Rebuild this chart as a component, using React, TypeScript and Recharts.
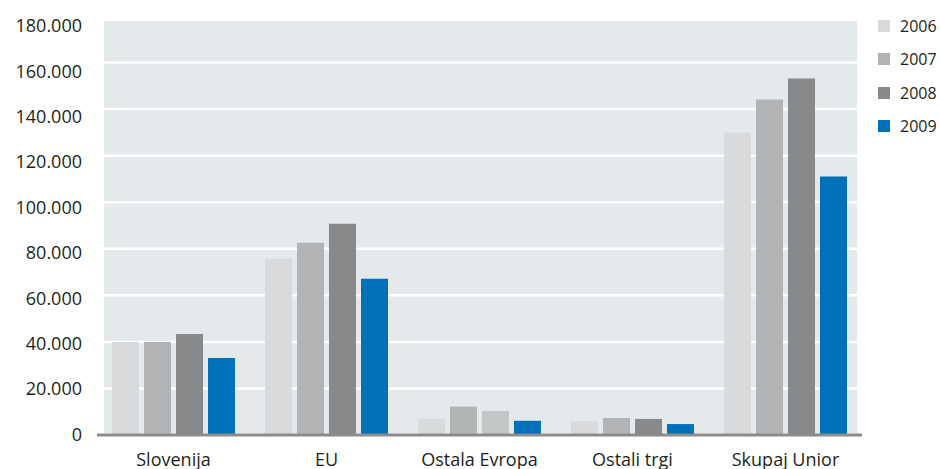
import React from 'react';
import { BarChart, Bar, XAxis, YAxis, CartesianGrid, Legend, Cell } from 'recharts';

const categories = ['Slovenija', 'EU', 'Ostala Evropa', 'Ostali trgi', 'Skupaj Unior'];
const years = ['2006', '2007', '2008', '2009'];
const values2006 = [40000, 75700, 6900, 6000, 130000];
const values2007 = [40000, 82600, 12200, 7300, 144100];
const values2008 = [43400, 90800, 10300, 6900, 153100];
const values2009 = [33100, 67100, 6100, 4700, 111000];
const yTicks = [0, 20000, 40000, 60000, 80000, 100000, 120000, 140000, 160000, 180000];

const colors = ['#d9dadb', '#b2b3b4', '#88898a', '#0071b9'];
const lighterCell2008 = '#c4c5c6';

const seriesValues = [values2006, values2007, values2008, values2009];
const data = categories.map((name, i) => {
  const row: Record<string, string | number> = { name };
  years.forEach((y, j) => {
    row[y] = seriesValues[j][i];
  });
  return row;
});

const fmt = (n: number) => String(n).replace(/\B(?=(\d{3})+(?!\d))/g, '.');
const FONT = '"Open Sans", "Noto Sans", sans-serif';

const YTick = (props: any) => {
  const { x, y, payload } = props;
  const dy = 1 + (1.17 * payload.value) / 20000;
  return (
    <text x={x} y={y + dy} textAnchor="end" dominantBaseline="middle" fontFamily={FONT} fontSize={18} fill="#231f20">
      {fmt(payload.value)}
    </text>
  );
};

const LegendContent = (props: any) => {
  const payload = props.payload || [];
  return (
    <div style={{ fontFamily: FONT }}>
      {payload.map((p: any) => (
        <div key={p.value} style={{ display: 'flex', alignItems: 'center', height: 33.5 }}>
          <div style={{ width: 12, height: 12, background: p.color, marginRight: 10 }} />
          <span style={{ fontSize: 16, color: '#231f20' }}>{p.value}</span>
        </div>
      ))}
    </div>
  );
};

export default function App() {
  return (
    <div style={{ position: 'absolute', left: 0, top: 0, width: 940, height: 469, background: '#fff' }}>
      <BarChart
        width={940}
        height={469}
        data={data}
        margin={{ top: 16, right: 78, bottom: 0, left: 0 }}
        barCategoryGap={15}
        barGap={5}
      >
        <CartesianGrid
          x={104}
          y={21}
          width={753}
          height={414}
          vertical={false}
          fill="#e4e9ec"
          fillOpacity={1}
          stroke="#ffffff"
          strokeWidth={2.5}
        />
        <XAxis
          dataKey="name"
          height={34}
          tickLine={false}
          tickSize={0}
          tickMargin={18}
          axisLine={{ stroke: '#8c8c8c', strokeWidth: 3 }}
          tick={{ fontFamily: FONT, fontSize: 18, fill: '#231f20' }}
          interval={0}
        />
        <YAxis
          width={97}
          domain={[0, 180000]}
          ticks={yTicks}
          interval={0}
          axisLine={false}
          tickLine={false}
          tickSize={0}
          tickMargin={15}
          tick={<YTick />}
        />
        <Legend
          layout="vertical"
          align="center"
          verticalAlign="middle"
          content={<LegendContent />}
          wrapperStyle={{ position: 'absolute', left: 878, top: 9, width: 62, height: 140 }}
        />
        {years.map((y, j) => (
          <Bar key={y} dataKey={y} name={y} fill={colors[j]} isAnimationActive={false}>
            {categories.map((c, i) => (
              <Cell key={c} fill={j === 2 && i === 2 ? lighterCell2008 : colors[j]} />
            ))}
          </Bar>
        ))}
      </BarChart>
    </div>
  );
}
